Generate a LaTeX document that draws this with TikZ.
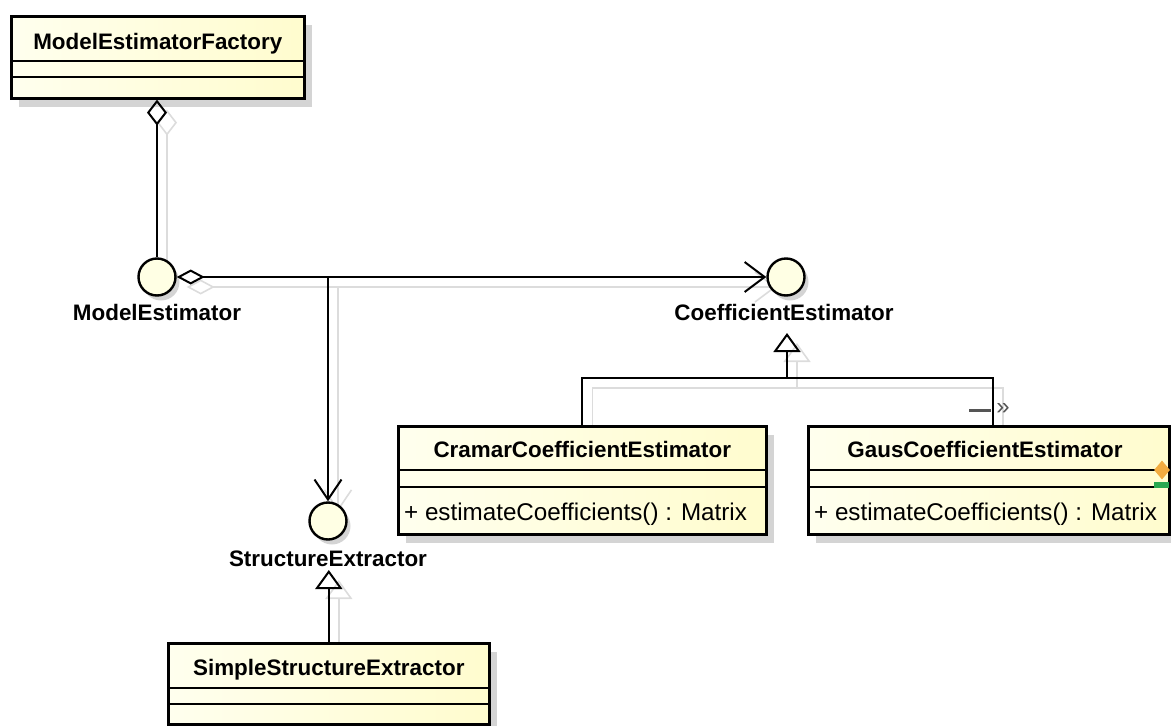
\documentclass[tikz,border=0pt]{standalone}
\usepackage{fontspec}
\setmainfont{Liberation Sans}
\usetikzlibrary{arrows.meta,calc,shadows,shapes.geometric}

\definecolor{boxL}{RGB}{255,255,238}
\definecolor{boxR}{RGB}{255,252,206}
\definecolor{ifill}{RGB}{255,255,228}
\definecolor{shade}{RGB}{212,212,212}
\definecolor{ghost}{RGB}{220,220,220}
\definecolor{markgray}{RGB}{85,85,85}
\definecolor{orn}{RGB}{242,172,64}
\definecolor{grn}{RGB}{40,168,80}

\pgfdeclarelayer{bg}
\pgfsetlayers{bg,main}

\tikzset{
  classbox/.style={draw=black, line width=2.6pt, left color=boxL, right color=boxR,
    inner sep=0pt, anchor=north west,
    drop shadow={shadow xshift=8pt, shadow yshift=-9pt, fill=shade, opacity=1}},
  sepline/.style={line width=1.8pt},
  title/.style={font=\fontsize{22.4}{26}\selectfont\bfseries, inner sep=0pt, anchor=base},
  oper/.style={font=\fontsize{24.2}{28}\selectfont, inner sep=0pt, anchor=base west},
  iface/.style={circle, draw=black, line width=2.4pt, fill=ifill, minimum size=37pt, inner sep=0pt,
    drop shadow={shadow xshift=4pt, shadow yshift=-5pt, fill=shade, opacity=1}},
  link/.style={line width=2pt, draw=black},
  aggtip/.style={{Diamond[open,length=26pt,width=20pt]}-},
  aggside/.style={{Diamond[open,length=28pt,width=15pt]}-{Straight Barb[length=20pt,width=30pt]}},
  navtip/.style={-{Straight Barb[length=20pt,width=27pt]}},
  gentip/.style={-{Triangle[open,length=19pt,width=27pt]}},
}

% all connectors, drawn once as shadows and once in black
\newcommand\umllinks{%
  \draw[link, aggtip] (mef.south -| me) -- (me.north);
  \draw[link, aggside] (me.east) -- (ce.west);
  \draw[link, navtip] (br) -- (se.north);
  \draw[link, gentip] (cramar.north) |- (gjoin) -- (gtip);
  \draw[link] (gausup) |- (gjoin);
  \draw[link, gentip] (sse.north) -- (setip);
}

\begin{document}
\begin{tikzpicture}[x=1pt, y=-1pt]
  \useasboundingbox (0,0) rectangle (1171,726);

  % classes
  \node[classbox, minimum width=293pt, minimum height=82pt] (mef) at (10,15) {};
  \node[classbox, minimum width=368pt, minimum height=108pt] (cramar) at (397,425) {};
  \node[classbox, minimum width=361pt, minimum height=108pt] (gaus) at (807,425) {};
  \node[classbox, minimum width=321pt, minimum height=81pt] (sse) at (167,642) {};

  \draw[sepline] ($(mef.north west)+(0,46)$) -- ($(mef.north east)+(0,46)$);
  \draw[sepline] ($(mef.north west)+(0,62)$) -- ($(mef.north east)+(0,62)$);
  \draw[sepline] ($(cramar.north west)+(0,45)$) -- ($(cramar.north east)+(0,45)$);
  \draw[sepline] ($(cramar.north west)+(0,62)$) -- ($(cramar.north east)+(0,62)$);
  \draw[sepline] ($(gaus.north west)+(0,45)$) -- ($(gaus.north east)+(0,45)$);
  \draw[sepline] ($(gaus.north west)+(0,62)$) -- ($(gaus.north east)+(0,62)$);
  \draw[sepline] ($(sse.north west)+(0,46)$) -- ($(sse.north east)+(0,46)$);
  \draw[sepline] ($(sse.north west)+(0,62)$) -- ($(sse.north east)+(0,62)$);

  \node[title] (meft) at (mef.north |- 0,49) {ModelEstimatorFactory};
  \node[title] (cramart) at (cramar.north |- 0,457) {CramarCoefficientEstimator};
  \node[oper] (cramaro) at (404,520) {+ estimateCoefficients() : Matrix};
  \node[title] (gaust) at (985,457) {GausCoefficientEstimator};
  \node[oper] (gauso) at (814,520) {+ estimateCoefficients() : Matrix};
  \node[title] (sset) at (sse.north |- 0,675) {SimpleStructureExtractor};

  % editor markers on the Gaus class
  \node[diamond, fill=orn, minimum width=16pt, minimum height=19pt, inner sep=0pt] (gausdia) at (1162,470) {};
  \node[fill=grn, minimum width=15pt, minimum height=6pt, inner sep=0pt] (gausbar) at (1161,485) {};

  % interfaces
  \node[iface] (me) at (157,277) {};
  \node[iface] (ce) at (786,277) {};
  \node[iface] (se) at (328,521) {};
  \node[title] (mel) at (157,320) {ModelEstimator};
  \node[title] (cel) at (784,320) {CoefficientEstimator};
  \node[title] (sel) at (328,566) {StructureExtractor};

  % connector waypoints
  \coordinate (br) at (me.east -| se);
  \coordinate (gjoin) at (787,378);
  \coordinate (gtip) at (787,333);
  \coordinate (gausup) at ($(gaus.north west)+(186,0)$);
  \coordinate (setip) at (sse.north |- 0,570);

  \begin{pgfonlayer}{bg}
    \begin{scope}[transform canvas={xshift=10pt, yshift=-10pt},
                  link/.style={line width=1.6pt, draw=ghost}]
      \umllinks
    \end{scope}
  \end{pgfonlayer}

  \umllinks

  % dependency stub above the Gaus class
  \coordinate (stubA) at (969,410);
  \coordinate (stubB) at (991,410);
  \draw[line width=3pt, markgray] (stubA) -- (stubB);
  \node[font=\fontsize{24}{24}\selectfont, text=markgray, inner sep=0pt] (stub) at (1003,409) {»};
\end{tikzpicture}
\end{document}
